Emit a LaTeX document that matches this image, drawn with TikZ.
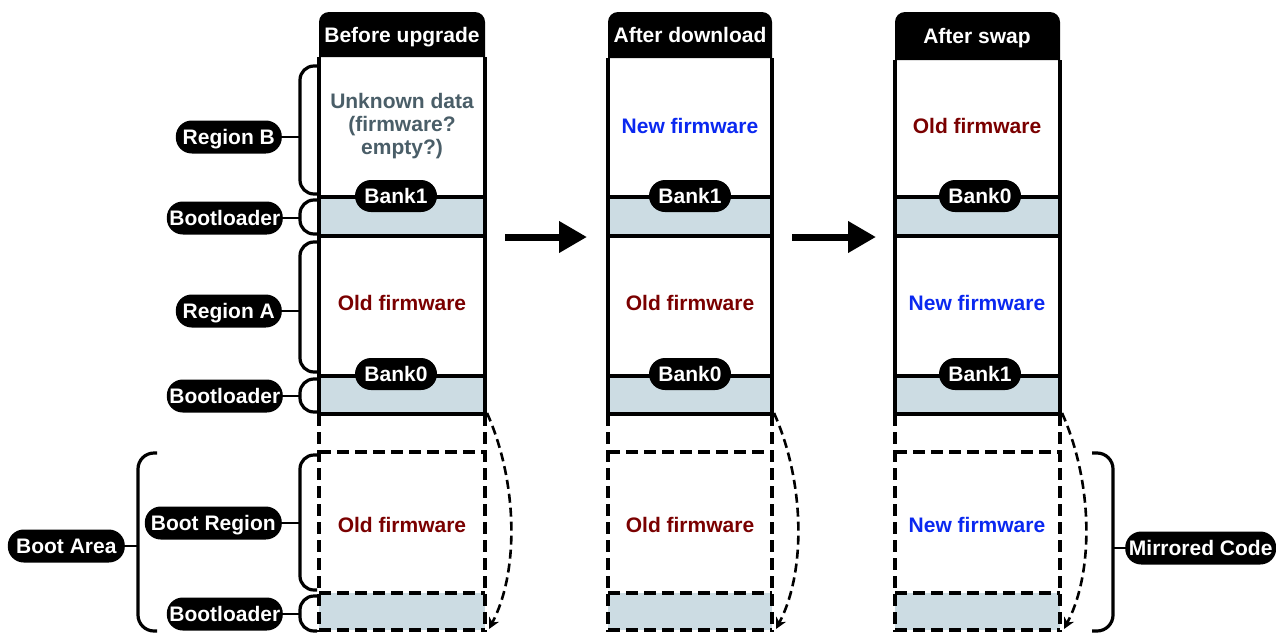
\documentclass[tikz,border=0pt]{standalone}
\usepackage{fontspec}
\setmainfont{Liberation Sans}
\usetikzlibrary{arrows.meta}
\definecolor{blfill}{RGB}{204,220,227}
\definecolor{oldred}{RGB}{122,0,0}
\definecolor{newblue}{RGB}{10,40,240}
\definecolor{unkgray}{RGB}{74,94,104}
\begin{document}
\begin{tikzpicture}[x=1pt,y=-1pt,
  tag/.style={rectangle, rounded corners=16pt, fill=black, text=white, inner xsep=2pt, inner ysep=0pt, minimum height=33pt, text height=15pt, text depth=0pt, font=\fontsize{21}{23}\selectfont\bfseries},
  banktag/.style={tag, minimum width=82pt, minimum height=32pt},
  hdrtext/.style={text=white, text height=15pt, text depth=0pt, inner sep=0pt, font=\fontsize{21}{23}\selectfont\bfseries},
  content/.style={font=\fontsize{21}{23}\selectfont\bfseries, align=center},
  border/.style={line width=3.4pt},
  dborder/.style={line width=3.4pt, dash pattern=on 12pt off 6pt},
  bracepath/.style={line width=3.2pt, rounded corners=14pt},
  conn/.style={line width=2.8pt},
  bigarrow/.style={line width=7pt, -{Triangle[length=28pt,width=30pt]}},
  swaparrow/.style={line width=2.6pt, dash pattern=on 9pt off 5pt, -{Stealth[length=11pt,width=11pt]}},
]
\useasboundingbox (0,0) rectangle (1276,632);

% Column 1
\fill (319,57) [rounded corners=10pt] -- (319,12) -- (485,12) [sharp corners] -- (485,57) -- cycle;
\node[hdrtext] (h1) at (402,35) {Before upgrade};
\fill[blfill] (319,197) rectangle (485,236);
\fill[blfill] (319,376) rectangle (485,414);
\fill[blfill] (319,593) rectangle (485,630);
\draw[border] (319,57) -- (319,414) (485,57) -- (485,414);
\draw[border] (319,197) -- (485,197) (319,236) -- (485,236) (319,376) -- (485,376) (319,414) -- (485,414);
\draw[dborder] (319,414) -- (319,632) (485,414) -- (485,632);
\draw[dborder] (319,452) -- (485,452) (319,593) -- (485,593) (319,630) -- (485,630);
\node[content, text=unkgray] (t1b) at (402,126) {Unknown data\\(firmware?\\empty?)};
\node[content, text=oldred] (t1a) at (402,303) {Old firmware};
\node[content, text=oldred] (t1c) at (402,525) {Old firmware};
\node[banktag] (b1u) at (396,196) {Bank1};
\node[banktag] (b1l) at (396,374) {Bank0};

% Column 2
\fill (608,58) [rounded corners=10pt] -- (608,12) -- (772,12) [sharp corners] -- (772,58) -- cycle;
\node[hdrtext] (h2) at (690,35) {After download};
\fill[blfill] (608,197) rectangle (772,236);
\fill[blfill] (608,376) rectangle (772,414);
\fill[blfill] (608,593) rectangle (772,630);
\draw[border] (608,58) -- (608,414) (772,58) -- (772,414);
\draw[border] (608,197) -- (772,197) (608,236) -- (772,236) (608,376) -- (772,376) (608,414) -- (772,414);
\draw[dborder] (608,414) -- (608,632) (772,414) -- (772,632);
\draw[dborder] (608,452) -- (772,452) (608,593) -- (772,593) (608,630) -- (772,630);
\node[content, text=newblue] (t2b) at (690,126) {New firmware};
\node[content, text=oldred] (t2a) at (690,303) {Old firmware};
\node[content, text=oldred] (t2c) at (690,525) {Old firmware};
\node[banktag] (b2u) at (690,196) {Bank1};
\node[banktag] (b2l) at (690,374) {Bank0};

% Column 3
\fill (895,60) [rounded corners=10pt] -- (895,12) -- (1060,12) [sharp corners] -- (1060,60) -- cycle;
\node[hdrtext] (h3) at (977,36) {After swap};
\fill[blfill] (895,197) rectangle (1060,236);
\fill[blfill] (895,376) rectangle (1060,414);
\fill[blfill] (895,593) rectangle (1060,630);
\draw[border] (895,60) -- (895,414) (1060,60) -- (1060,414);
\draw[border] (895,197) -- (1060,197) (895,236) -- (1060,236) (895,376) -- (1060,376) (895,414) -- (1060,414);
\draw[dborder] (895,414) -- (895,632) (1060,414) -- (1060,632);
\draw[dborder] (895,452) -- (1060,452) (895,593) -- (1060,593) (895,630) -- (1060,630);
\node[content, text=oldred] (t3b) at (977,126) {Old firmware};
\node[content, text=newblue] (t3a) at (977,303) {New firmware};
\node[content, text=newblue] (t3c) at (977,525) {New firmware};
\node[banktag] (b3u) at (980,196) {Bank0};
\node[banktag] (b3l) at (980,374) {Bank1};

% big arrows
\coordinate (a1s) at (505,237); \coordinate (a1e) at (587,237);
\coordinate (a2s) at (792,237); \coordinate (a2e) at (876,237);
\draw[bigarrow] (a1s) -- (a1e);
\draw[bigarrow] (a2s) -- (a2e);

% swap arrows
\coordinate (s1s) at (487,413); \coordinate (s1e) at (489,629);
\coordinate (s2s) at (774,413); \coordinate (s2e) at (776,629);
\coordinate (s3s) at (1062,413); \coordinate (s3e) at (1064,629);
\draw[swaparrow] (s1s) .. controls (517,480) and (520,570) .. (s1e);
\draw[swaparrow] (s2s) .. controls (804,480) and (807,570) .. (s2e);
\draw[swaparrow] (s3s) .. controls (1092,480) and (1095,570) .. (s3e);

% braces
\draw[bracepath] (317,66) -- (300,66) -- (300,194) -- (317,194);
\draw[bracepath] (317,200) -- (300,200) -- (300,234) -- (317,234);
\draw[bracepath] (317,242) -- (300,242) -- (300,372) -- (317,372);
\draw[bracepath] (317,379) -- (300,379) -- (300,412) -- (317,412);
\draw[bracepath] (317,455) -- (300,455) -- (300,590) -- (317,590);
\draw[bracepath] (317,596) -- (300,596) -- (300,631) -- (317,631);
\draw[bracepath, rounded corners=16pt] (157,453) -- (138,453) -- (138,631) -- (157,631);
\draw[bracepath, rounded corners=16pt] (1092,453) -- (1113,453) -- (1113,631) -- (1092,631);

\coordinate (cb) at (300,137);
\coordinate (cbl1) at (300,218);
\coordinate (ca) at (300,311);
\coordinate (cbl0) at (300,396);
\coordinate (cbr) at (300,523);
\coordinate (cbl2) at (300,614);
\coordinate (cba) at (138,546);
\coordinate (cmc) at (1113,548);

% labels
\node[tag, minimum width=106pt, anchor=east] (lb) at (282,137) {Region B};
\node[tag, minimum width=116pt, anchor=east] (lbl1) at (283,218) {Bootloader};
\node[tag, minimum width=106pt, anchor=east] (la) at (282,311) {Region A};
\node[tag, minimum width=116pt, anchor=east] (lbl0) at (283,396) {Bootloader};
\node[tag, minimum width=137pt, anchor=east] (lbr) at (282,523) {Boot Region};
\node[tag, minimum width=116pt, anchor=east] (lbl2) at (283,614) {Bootloader};
\node[tag, minimum width=117pt, anchor=east] (lba) at (125,546) {Boot Area};
\node[tag, minimum width=151pt, anchor=west] (lmc) at (1125,548) {Mirrored Code};

\draw[conn] (lb.east) -- (cb);
\draw[conn] (lbl1.east) -- (cbl1);
\draw[conn] (la.east) -- (ca);
\draw[conn] (lbl0.east) -- (cbl0);
\draw[conn] (lbr.east) -- (cbr);
\draw[conn] (lbl2.east) -- (cbl2);
\draw[conn] (lba.east) -- (cba);
\draw[conn] (lmc.west) -- (cmc);
\end{tikzpicture}
\end{document}
